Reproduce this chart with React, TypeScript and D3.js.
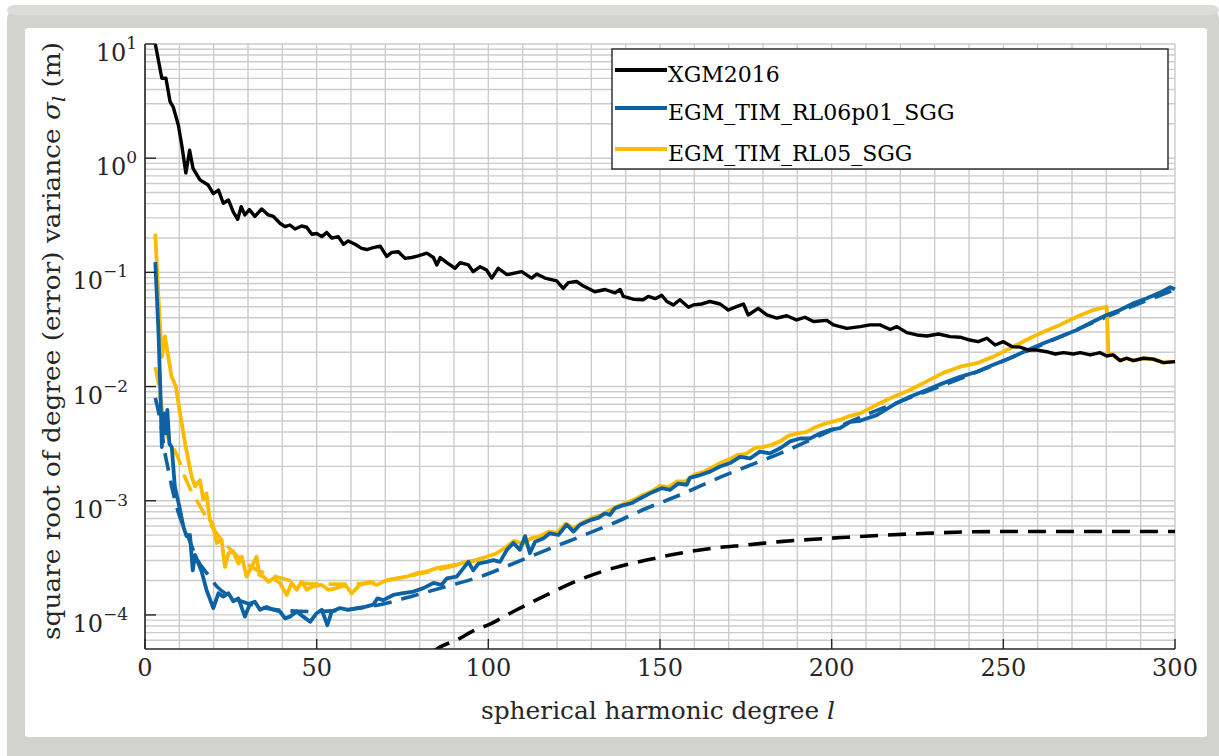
import React from "react";
import * as d3 from "d3";

// ---- data: [spherical harmonic degree, log10(sigma_l in m)] ----
const XGM2016: [number, number][] = [
  [3,1.0],[4.9,0.70],[6.1,0.70],[7.3,0.495],[8.2,0.45],[9.7,0.29],[10.7,0.116],[11.9,-0.13],[13,0.07],[14,-0.09],
  [16,-0.19],[18.4,-0.235],[19.9,-0.31],[21.4,-0.28],[22.8,-0.395],[24.3,-0.366],[25.7,-0.47],[27,-0.535],[28,-0.425],
  [29.1,-0.497],[30.4,-0.45],[32,-0.51],[34,-0.445],[35.9,-0.497],[37.4,-0.51],[39.3,-0.57],[40.8,-0.6],[42.2,-0.585],
  [43.7,-0.62],[45.6,-0.594],[47.1,-0.605],[48.6,-0.666],[50,-0.66],[51.5,-0.687],[52.9,-0.65],[54.4,-0.70],[56.3,-0.687],
  [57.8,-0.754],[59.2,-0.725],[61.2,-0.754],[63.1,-0.79],[64.6,-0.80],[66.5,-0.784],[68.5,-0.77],[70.4,-0.86],[71.9,-0.825],
  [73.8,-0.82],[75.7,-0.877],[77.7,-0.87],[79.6,-0.856],[82.1,-0.832],[84,-0.87],[85,-0.935],[86,-0.87],[87.9,-0.915],
  [90.3,-0.964],[91.8,-0.915],[94.2,-0.935],[95.6,-0.994],[97.6,-0.95],[99.5,-0.98],[101,-1.05],[102.9,-0.964],[105.4,-1.02],
  [109.7,-0.994],[112.6,-1.05],[114.1,-1.015],[116.5,-1.05],[119.9,-1.075],[121.8,-1.14],[123.3,-1.09],[125.7,-1.08],
  [127.7,-1.12],[131,-1.17],[134,-1.15],[136.9,-1.18],[138.4,-1.15],[139.3,-1.21],[142.2,-1.235],[145.1,-1.24],[146.6,-1.21],
  [148.6,-1.23],[150.5,-1.20],[152,-1.255],[153.9,-1.285],[155.8,-1.24],[158.3,-1.305],[159.7,-1.285],[162.1,-1.277],
  [164.6,-1.255],[167.5,-1.277],[169.9,-1.33],[172.3,-1.30],[174.3,-1.277],[175.7,-1.373],[178.6,-1.315],[181.1,-1.373],
  [184,-1.40],[186.9,-1.38],[189.8,-1.417],[192.2,-1.393],[194.7,-1.43],[198.6,-1.42],[200.5,-1.46],[204.4,-1.49],
  [208.3,-1.475],[211.2,-1.46],[214.1,-1.46],[217,-1.50],[219,-1.475],[221.9,-1.528],[224.8,-1.548],[227.7,-1.557],
  [231.1,-1.54],[234.5,-1.563],[237.4,-1.568],[239.8,-1.59],[242.7,-1.607],[245.2,-1.577],[247.6,-1.636],[250,-1.607],
  [252.5,-1.65],[254.9,-1.655],[257.3,-1.68],[259.7,-1.68],[262.6,-1.695],[265.1,-1.715],[267.5,-1.703],[270.4,-1.715],
  [272.4,-1.703],[275.3,-1.723],[278.2,-1.703],[280.1,-1.732],[282,-1.723],[284,-1.773],[285.9,-1.752],[287.9,-1.773],
  [290.8,-1.752],[293.7,-1.76],[296.6,-1.79],[300,-1.782],
];

const XGM2016_ERR: [number, number][] = [
  [84,-4.32],[86,-4.28],[90.8,-4.22],[95.6,-4.14],[100.5,-4.08],[107.3,-3.97],[117,-3.825],[126.7,-3.69],[136.4,-3.59],
  [146.1,-3.52],[155.8,-3.46],[165.5,-3.415],[175.3,-3.387],[185,-3.358],[194.7,-3.337],[204.4,-3.32],[227.7,-3.285],
  [247.1,-3.27],[266.5,-3.27],[285.9,-3.27],[300,-3.27],
];

const RL06P01: [number, number][] = [
  [3,-0.91],[3.9,-1.50],[4.5,-2.06],[4.9,-2.53],[5.5,-2.235],[6.1,-2.41],[6.5,-2.205],[7.1,-2.50],[7.8,-2.53],[8.7,-2.88],
  [10,-3.05],[11.2,-3.23],[12.1,-3.31],[13.1,-3.30],[13.9,-3.61],[14.6,-3.475],[16.5,-3.62],[17.9,-3.78],[19.9,-3.94],
  [21.4,-3.81],[22.8,-3.84],[24.3,-3.81],[25.7,-3.88],[27.2,-3.855],[29.1,-4.015],[30.6,-3.90],[32,-3.885],[33.5,-3.955],
  [35.4,-3.93],[37.4,-3.955],[39.3,-3.97],[40.8,-4.03],[42.2,-4.015],[44.2,-3.97],[46.1,-4.015],[48.1,-4.06],[50,-3.985],
  [51.5,-3.955],[53.1,-4.09],[54.4,-3.97],[56.8,-3.94],[59.2,-3.955],[61.7,-3.94],[64.1,-3.93],[66.5,-3.91],[67.7,-3.855],
  [69.4,-3.87],[72.3,-3.825],[75.2,-3.81],[78.2,-3.795],[81.1,-3.765],[84,-3.72],[86.4,-3.737],[87.9,-3.68],[90.8,-3.665],
  [94.2,-3.535],[95.6,-3.61],[97.1,-3.55],[99.5,-3.535],[101.5,-3.52],[103.4,-3.535],[105.4,-3.43],[107.3,-3.37],
  [109.2,-3.43],[110.7,-3.31],[112.1,-3.46],[113.6,-3.36],[116,-3.33],[117.9,-3.285],[120.4,-3.30],[122.8,-3.21],
  [124.8,-3.27],[126.7,-3.21],[129.6,-3.17],[132,-3.15],[134,-3.11],[135.4,-3.125],[136.9,-3.065],[139.3,-3.04],
  [141.8,-3.02],[144.2,-2.98],[147.1,-2.935],[150.5,-2.89],[152.9,-2.905],[155.3,-2.85],[157.8,-2.86],[158.7,-2.80],
  [161.7,-2.775],[164.6,-2.745],[167.5,-2.70],[170.4,-2.67],[173.3,-2.615],[176.2,-2.63],[179.1,-2.57],[182,-2.585],
  [185,-2.54],[187.9,-2.48],[190.8,-2.455],[193.7,-2.455],[196.6,-2.41],[199.5,-2.38],[202.4,-2.365],[205.4,-2.31],
  [208.3,-2.30],[213.1,-2.25],[218,-2.16],[222.8,-2.09],[227.7,-2.03],[232.5,-1.97],[237.4,-1.915],[242.3,-1.87],
  [247.1,-1.81],[252,-1.75],[256.8,-1.685],[261.7,-1.62],[266.5,-1.563],[271.4,-1.505],[276.2,-1.43],[280.1,-1.373],
  [284,-1.33],[287.9,-1.27],[291.8,-1.227],[295.7,-1.177],[298.6,-1.13],[300,-1.148],
];

const RL06P01_ERR: [number, number][] = [
  [3,-2.10],[4.4,-2.29],[5.8,-2.58],[6.8,-2.73],[8,-2.905],[9.2,-3.05],[13,-3.35],[15,-3.50],[18.4,-3.65],[20.9,-3.75],
  [25,-3.84],[30,-3.90],[40,-3.96],[50,-3.97],[60,-3.95],[70,-3.90],[79,-3.825],[87.9,-3.75],[97.6,-3.665],[107.3,-3.55],
  [117,-3.43],[126.7,-3.315],[136.4,-3.197],[146.1,-3.066],[155.8,-2.95],[165.5,-2.82],[175.3,-2.70],[185,-2.585],
  [194.7,-2.455],[204.4,-2.32],[211,-2.235],[220,-2.13],[240,-1.90],[260,-1.65],[280,-1.39],[300,-1.15],
];

const RL05: [number, number][] = [
  [3,-0.66],[3.9,-1.21],[4.9,-1.74],[5.8,-1.56],[6.8,-1.74],[7.7,-1.91],[9,-2.0],[10.2,-2.235],[11.7,-2.50],[12.6,-2.64],
  [13.6,-2.79],[14.6,-2.875],[16,-2.82],[17,-2.99],[17.9,-2.935],[18.9,-3.17],[19.7,-3.20],[20.9,-3.37],[22.3,-3.34],
  [23.3,-3.58],[24.3,-3.46],[25.7,-3.445],[27.2,-3.55],[28.2,-3.49],[29.6,-3.665],[31.1,-3.575],[32.5,-3.49],[33.3,-3.65],
  [34.5,-3.665],[35.9,-3.71],[37.4,-3.68],[39.3,-3.72],[41.3,-3.825],[42.7,-3.72],[44.2,-3.78],[45.6,-3.71],[47.1,-3.78],
  [49,-3.75],[51.5,-3.737],[53.4,-3.78],[55.8,-3.765],[58.3,-3.737],[60.2,-3.81],[62.6,-3.737],[65.5,-3.71],[67.5,-3.737],
  [70.4,-3.695],[73.3,-3.68],[76.2,-3.665],[79.1,-3.635],[82,-3.62],[84.9,-3.59],[87.9,-3.575],[90.8,-3.56],[93.7,-3.535],
  [96.6,-3.52],[99.5,-3.49],[102.4,-3.46],[105,-3.41],[107.5,-3.35],[110,-3.38],[112.5,-3.33],[115,-3.31],[117.5,-3.27],
  [120,-3.28],[122.5,-3.20],[125,-3.24],[127.5,-3.19],[130,-3.15],[132.5,-3.13],[135,-3.09],[137.5,-3.05],[140,-3.02],
  [142.5,-2.99],[145,-2.95],[147.5,-2.92],[150,-2.87],[152.5,-2.88],[155,-2.83],[157.5,-2.83],[160,-2.77],[162.5,-2.75],
  [165,-2.71],[167.5,-2.67],[170,-2.64],[172.5,-2.60],[175,-2.59],[177.5,-2.54],[180,-2.53],[182.5,-2.51],[185,-2.48],
  [187.5,-2.43],[190,-2.41],[192.5,-2.40],[195,-2.36],[197.5,-2.33],[200,-2.31],[202.5,-2.29],[205,-2.26],[208.3,-2.235],
  [213.1,-2.16],[218,-2.09],[222.8,-2.03],[227.7,-1.955],[232.5,-1.88],[237.4,-1.826],[242.3,-1.795],[247.1,-1.738],
  [252,-1.665],[256.8,-1.59],[261.7,-1.52],[266.5,-1.46],[271.4,-1.388],[276.2,-1.33],[279.6,-1.305],[280.1,-1.30],
  [280.6,-1.70],[282,-1.723],[284,-1.773],[285.9,-1.752],[287.9,-1.773],[290.8,-1.752],[293.7,-1.76],[296.6,-1.79],[300,-1.782],
];

const RL05_ERR: [number, number][] = [
  [3,-1.83],[4,-1.99],[5.8,-2.36],[8.2,-2.53],[9.7,-2.63],[11.2,-2.76],[12.9,-2.88],[15.5,-3.02],[20,-3.25],[25,-3.43],
  [30,-3.56],[40,-3.68],[50,-3.73],[60,-3.73],[70,-3.70],[80,-3.64],[90,-3.57],[100,-3.49],
];

const X_TICKS = [0, 50, 100, 150, 200, 250, 300];
const Y_TICK_EXPONENTS = [1, 0, -1, -2, -3, -4];
const LEGEND_LABELS = ["XGM2016", "EGM_TIM_RL06p01_SGG", "EGM_TIM_RL05_SGG"];

// ---- styles ----
const BLACK = "#000000";
const BLUE = "#0d62a3";
const YELLOW = "#fbbb00";
const GRID = "#cccccc";
const AXIS = "#262626";
const FONT = "'DejaVu Serif', serif";

export default function App() {
  const W = 1219, H = 756;
  const L = 145, R = 1175, T = 44, B = 649;
  const x = d3.scaleLinear().domain([0, 300]).range([L, R]);
  const y = d3.scaleLog().domain([5.03e-5, 10]).range([B, T]);

  const line = d3.line<[number, number]>()
    .x((d) => x(d[0]))
    .y((d) => y(Math.pow(10, d[1])));
  const smooth = d3.line<[number, number]>()
    .x((d) => x(d[0]))
    .y((d) => y(Math.pow(10, d[1])))
    .curve(d3.curveMonotoneX);

  const xGrid = d3.range(0, 301, 10);
  const yGrid: number[] = [];
  for (let e = -5; e <= 1; e++) {
    for (let k = 1; k <= 9; k++) {
      const v = k * Math.pow(10, e);
      if (v >= 5.03e-5 && v <= 10.0001) yGrid.push(v);
    }
  }

  const legendColors = [BLACK, BLUE, YELLOW];
  const legendBase = [82, 120, 161];
  const textStyle = { fontFamily: FONT };

  return (
    <svg width={W} height={H} style={{ position: "absolute", left: 0, top: 0, display: "block" }}
      xmlns="http://www.w3.org/2000/svg">
      <defs>
        <clipPath id="plotClip">
          <rect x={L} y={T - 2} width={R - L + 2} height={B - T + 2} />
        </clipPath>
      </defs>
      {/* frame */}
      <rect x={0} y={0} width={W} height={H} fill="#ffffff" />
      <rect x={7} y={5} width={1212} height={790} rx={15} fill="#d2d2ce" />
      <rect x={7} y={5} width={1212} height={10} rx={8} fill="#dcdcd8" />
      <rect x={25} y={28} width={1182} height={709} rx={3} fill="#ffffff" />

      {/* grid */}
      <g stroke={GRID} strokeWidth={1.4}>
        {xGrid.map((g) => (
          <line key={"gx" + g} x1={x(g)} x2={x(g)} y1={T} y2={B} />
        ))}
        {yGrid.map((g, i) => (
          <line key={"gy" + i} x1={L} x2={R} y1={y(g)} y2={y(g)} />
        ))}
      </g>

      {/* curves */}
      <g clipPath="url(#plotClip)" fill="none" strokeLinejoin="round" strokeLinecap="butt">
        <path d={smooth(RL05_ERR) || ""} stroke={YELLOW} strokeWidth={3.6} strokeDasharray="18 10" />
        <path d={smooth(RL06P01_ERR) || ""} stroke={BLUE} strokeWidth={3.6} strokeDasharray="18 10" />
        <path d={smooth(XGM2016_ERR) || ""} stroke={BLACK} strokeWidth={3.6} strokeDasharray="18 10" />
        <path d={line(RL05) || ""} stroke={YELLOW} strokeWidth={3.8} />
        <path d={line(RL06P01) || ""} stroke={BLUE} strokeWidth={3.8} />
        <path d={line(XGM2016) || ""} stroke={BLACK} strokeWidth={3.4} />
      </g>

      {/* axes */}
      <line x1={L} x2={L} y1={T} y2={B} stroke={AXIS} strokeWidth={1.6} />
      <line x1={L} x2={R} y1={B} y2={B} stroke={AXIS} strokeWidth={1.6} />
      {X_TICKS.map((t) => (
        <g key={"xt" + t}>
          <line x1={x(t)} x2={x(t)} y1={B} y2={B - 10} stroke={AXIS} strokeWidth={1.4} />
          <text x={x(t)} y={676} textAnchor="middle" style={textStyle} fontSize={24} fill={AXIS}>{t}</text>
        </g>
      ))}
      {Y_TICK_EXPONENTS.map((e) => {
        const yy = y(Math.pow(10, e));
        const endX = e >= 0 ? 137 : 128;
        return (
          <g key={"yt" + e}>
            <line x1={L} x2={L + 11} y1={yy} y2={yy} stroke={AXIS} strokeWidth={1.4} />
            <text x={endX} y={yy + 17} textAnchor="end" style={textStyle} fontSize={24} fill={AXIS}>
              10<tspan fontSize={17} dy={-12}>{e < 0 ? "\u2212" + Math.abs(e) : String(e)}</tspan>
            </text>
          </g>
        );
      })}

      {/* axis labels */}
      <text x={481} y={719} style={textStyle} fontSize={24} fill={AXIS} textLength={354} lengthAdjust="spacingAndGlyphs">
        spherical harmonic degree <tspan fontStyle="italic">l</tspan>
      </text>
      <text transform="translate(60,341) rotate(-90)" textAnchor="middle" style={textStyle} fontSize={24}
        fill={AXIS} textLength={598} lengthAdjust="spacingAndGlyphs">
        square root of degree (error) variance <tspan fontStyle="italic">σ</tspan>
        <tspan fontStyle="italic" fontSize={17} dy={5}>l</tspan>
        <tspan dy={-5}> (m)</tspan>
      </text>

      {/* legend */}
      <rect x={612} y={49} width={556} height={120} fill="#ffffff" stroke={AXIS} strokeWidth={1.4} />
      {LEGEND_LABELS.map((lab, i) => (
        <g key={"lg" + i}>
          <line x1={615} x2={667} y1={legendBase[i] - 12} y2={legendBase[i] - 12} stroke={legendColors[i]} strokeWidth={3.8} />
          <text x={668} y={legendBase[i]} style={textStyle} fontSize={22} fill="#000">{lab}</text>
        </g>
      ))}
    </svg>
  );
}
